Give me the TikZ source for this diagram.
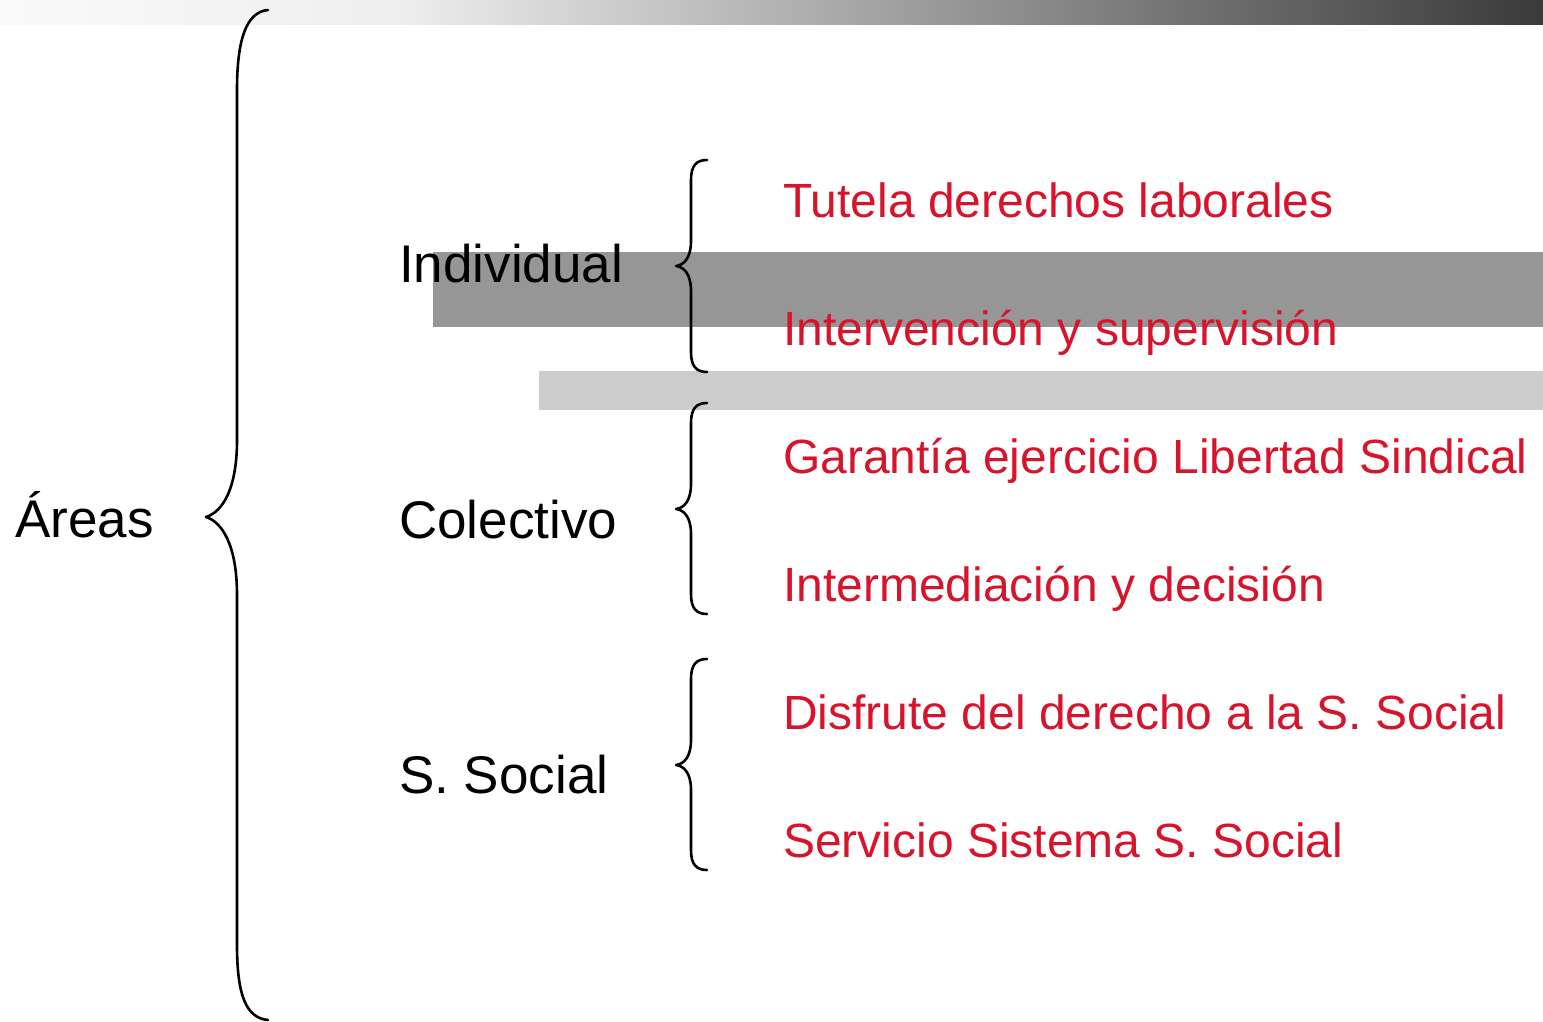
\documentclass[tikz,border=0pt]{standalone}
\usepackage{fontspec}
\setmainfont{Liberation Sans}
\definecolor{redtxt}{RGB}{214,20,44}
\definecolor{banddark}{RGB}{150,150,150}
\definecolor{bandlight}{RGB}{204,204,204}
\tikzset{
  bigtxt/.style={anchor=base west,inner sep=0pt,text=black,font=\fontsize{53}{60}\selectfont},
  redlbl/.style={anchor=base west,inner sep=0pt,text=redtxt,font=\fontsize{48}{56}\selectfont},
  bracestroke/.style={line width=2.6pt,black,line cap=round,line join=round},
}
\begin{document}
\begin{tikzpicture}[x=1pt,y=-1pt]
\useasboundingbox (0,0) rectangle (1543,1022);
% top gradient bar
\shade[left color={rgb,255:red,250;green,250;blue,250},right color={rgb,255:red,238;green,238;blue,238}] (0,0) rectangle (400,25);
\shade[left color={rgb,255:red,238;green,238;blue,238},right color={rgb,255:red,58;green,58;blue,58}] (399.5,0) rectangle (1543,25);
% bands
\fill[banddark] (433,252) rectangle (1543,327);
\fill[bandlight] (539,371) rectangle (1543,410);
% big brace
\draw[bracestroke] (268,10) .. controls (246,12) and (237,40) .. (237,90)
  -- (237,440) .. controls (237,490) and (222,512) .. (206,517)
  .. controls (222,522) and (237,545) .. (237,595)
  -- (237,945) .. controls (237,995) and (246,1018) .. (268,1020);
% small braces
\foreach \t/\m/\b in {160/266/372, 403/509/614, 659/765/870}{
  \draw[bracestroke] (707,\t) .. controls (696,\t) and (691,\t+6) .. (691,\t+20)
    -- (691,\m-25) .. controls (691,\m-8) and (684,\m-1) .. (676,\m)
    .. controls (684,\m+1) and (691,\m+8) .. (691,\m+25)
    -- (691,\b-20) .. controls (691,\b-6) and (696,\b) .. (707,\b);
}
% labels
\node[bigtxt] (areas) at (15,537) {Áreas};
\node[bigtxt] (indiv) at (399,282) {Individual};
\node[bigtxt] (colec) at (399,538) {Colectivo};
\node[bigtxt] (ssoc) at (399,793) {S. Social};
\node[redlbl] (r1) at (783,217) {Tutela derechos laborales};
\node[redlbl] (r2) at (783,345) {Intervención y supervisión};
\node[redlbl] (r3) at (783,473) {Garantía ejercicio Libertad Sindical};
\node[redlbl] (r4) at (783,601) {Intermediación y decisión};
\node[redlbl] (r5) at (783,729) {Disfrute del derecho a la S. Social};
\node[redlbl] (r6) at (783,857) {Servicio Sistema S. Social};
\end{tikzpicture}
\end{document}
